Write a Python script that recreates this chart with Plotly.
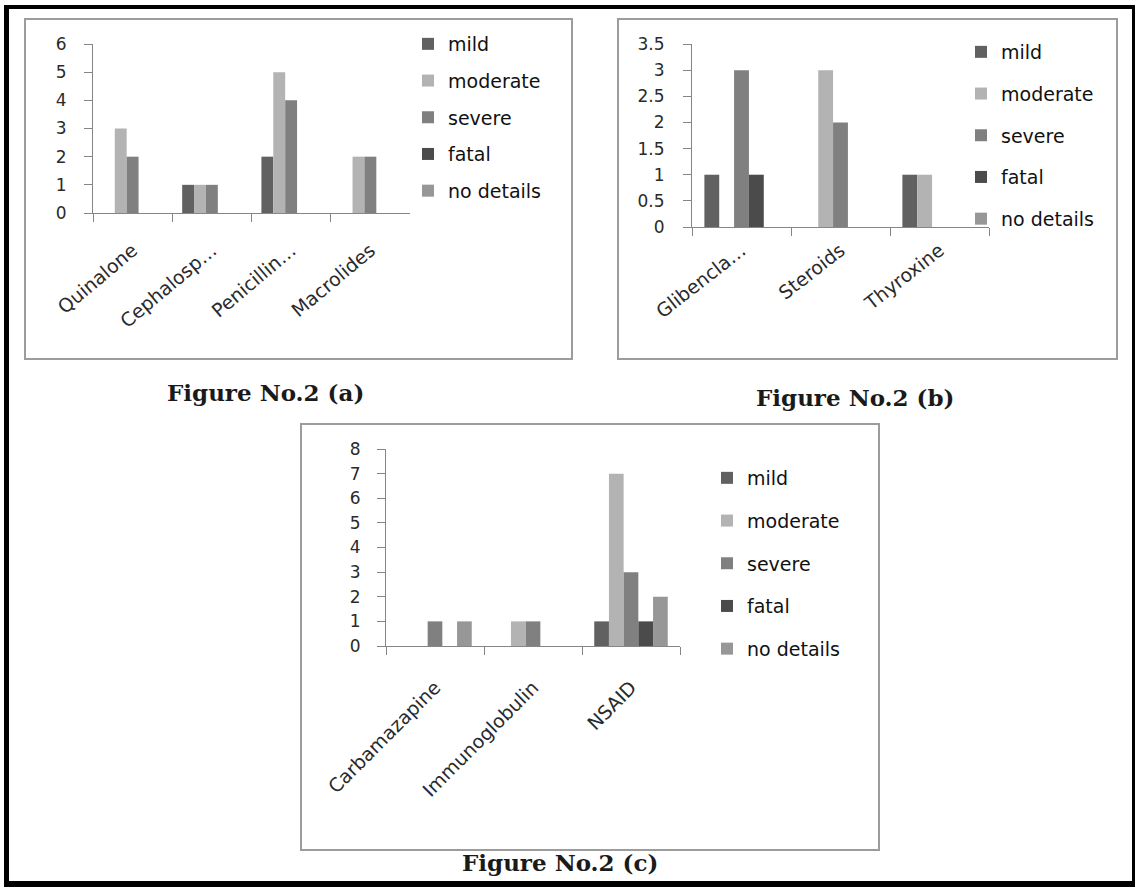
import plotly.graph_objects as go

W, H = 1135, 887

# ---------------- data ----------------
series_names = ["mild", "moderate", "severe", "fatal", "no details"]
series_colors = ["#616161", "#b3b3b3", "#808080", "#4b4b4b", "#979797"]

a_categories = ["Quinalone", "Cephalosp…", "Penicillin…", "Macrolides"]
a_mild = [0, 1, 2, 0]
a_moderate = [3, 1, 5, 2]
a_severe = [2, 1, 4, 2]
a_fatal = [0, 0, 0, 0]
a_nodetails = [0, 0, 0, 0]

b_categories = ["Glibencla…", "Steroids", "Thyroxine"]
b_mild = [1, 0, 1]
b_moderate = [0, 3, 1]
b_severe = [3, 2, 0]
b_fatal = [1, 0, 0]
b_nodetails = [0, 0, 0]

c_categories = ["Carbamazapine", "Immunoglobulin", "NSAID"]
c_mild = [0, 0, 1]
c_moderate = [0, 1, 7]
c_severe = [1, 1, 3]
c_fatal = [0, 0, 1]
c_nodetails = [1, 0, 2]

captions = ["Figure No.2 (a)", "Figure No.2 (b)", "Figure No.2 (c)"]


def px(x):
    return x / W


def py(y):
    return 1 - y / H


fig = go.Figure()

panels = [
    dict(cats=a_categories, vals=[a_mild, a_moderate, a_severe, a_fatal, a_nodetails],
         xa="x", ya="y", legend="legend"),
    dict(cats=b_categories, vals=[b_mild, b_moderate, b_severe, b_fatal, b_nodetails],
         xa="x2", ya="y2", legend="legend2"),
    dict(cats=c_categories, vals=[c_mild, c_moderate, c_severe, c_fatal, c_nodetails],
         xa="x3", ya="y3", legend="legend3"),
]

for p in panels:
    for name, color, v in zip(series_names, series_colors, p["vals"]):
        fig.add_trace(go.Bar(
            x=p["cats"], y=v, name=name, marker=dict(color=color, line=dict(width=0)),
            xaxis=p["xa"], yaxis=p["ya"], legend=p["legend"], legendgroup=p["legend"] + name,
        ))

tickfont = dict(family="DejaVu Sans", size=17, color="#2a2a2a")
catfont = dict(family="DejaVu Sans", size=19, color="#2a2a2a")
axcommon = dict(showline=True, linecolor="#868686", linewidth=1, ticks="outside",
                ticklen=8, tickcolor="#868686", showgrid=False, zeroline=False,
                automargin=False)

fig.update_layout(
    template="none",
    width=W, height=H, margin=dict(l=0, r=0, t=0, b=0, pad=0),
    paper_bgcolor="white", plot_bgcolor="white",
    barmode="group", bargap=0.25, bargroupgap=0,
    showlegend=True,
    xaxis=dict(domain=[px(93), px(410)], anchor="y", type="category", tickson="boundaries",
               tickangle=-40, tickfont=catfont, ticklabelstandoff=18, **axcommon),
    yaxis=dict(domain=[py(213), py(44)], anchor="x", range=[0, 6], dtick=1,
               tickfont=tickfont, ticklabelstandoff=14, **axcommon),
    xaxis2=dict(domain=[px(692), px(989)], anchor="y2", type="category", tickson="boundaries",
                tickangle=-38, tickfont=catfont, ticklabelstandoff=4, **axcommon),
    yaxis2=dict(domain=[py(227), py(44)], anchor="x2", range=[0, 3.5], dtick=0.5,
                tickfont=tickfont, ticklabelstandoff=15, **axcommon),
    xaxis3=dict(domain=[px(386), px(680)], anchor="y3", type="category", tickson="boundaries",
                tickangle=-45, tickfont=catfont, ticklabelstandoff=22, **axcommon),
    yaxis3=dict(domain=[py(646), py(449)], anchor="x3", range=[0, 8], dtick=1,
                tickfont=tickfont, ticklabelstandoff=13, **axcommon),
)

legfont = dict(family="DejaVu Sans", size=19, color="#111111")
fig.update_layout(
    legend=dict(x=px(408), y=py(25), xanchor="left", yanchor="top", font=legfont,
                tracegroupgap=9, bgcolor="rgba(0,0,0,0)"),
    legend2=dict(x=px(961), y=py(33), xanchor="left", yanchor="top", font=legfont,
                 tracegroupgap=14, bgcolor="rgba(0,0,0,0)"),
    legend3=dict(x=px(707), y=py(459), xanchor="left", yanchor="top", font=legfont,
                 tracegroupgap=15, bgcolor="rgba(0,0,0,0)"),
)

shapes = []
# panel borders
for (x0, y0, x1, y1) in [(25, 19, 572, 359), (618, 19, 1117, 359), (301, 424, 879, 850)]:
    shapes.append(dict(type="rect", xref="paper", yref="paper", x0=px(x0), x1=px(x1),
                       y0=py(y1), y1=py(y0), line=dict(color="#9c9c9c", width=2)))
# outer black frame
for (x0, y0, x1, y1) in [(4, 5, 9, 887), (4, 5, 1135, 9), (1132, 5, 1135, 887), (4, 881, 1135, 887)]:
    shapes.append(dict(type="rect", xref="paper", yref="paper", x0=px(x0), x1=px(x1),
                       y0=py(y1), y1=py(y0), line=dict(width=0), fillcolor="black"))
fig.update_layout(shapes=shapes)

capfont = dict(family="DejaVu Serif", size=23, color="#1a1a1a", weight="bold")
for text, (cx, cy) in zip(captions, [(265, 392), (855, 397), (560, 862)]):
    fig.add_annotation(text=text, x=px(cx), y=py(cy), xref="paper", yref="paper",
                       showarrow=False, xanchor="center", yanchor="middle", font=capfont)

fig.write_html("out.html", config={"displayModeBar": False},
               post_script="document.body.style.margin='0';")
